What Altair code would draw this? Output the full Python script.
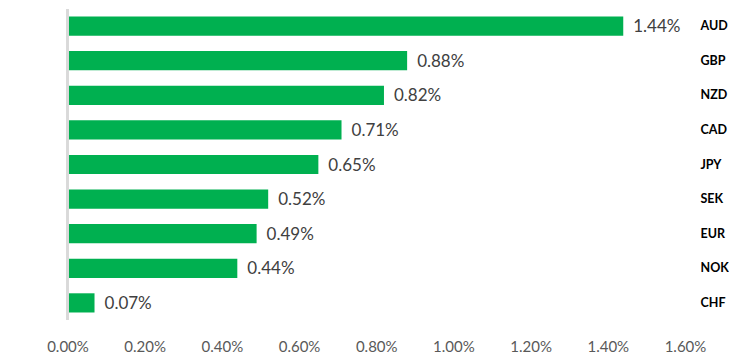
import altair as alt
import pandas as pd

currencies = ["AUD", "GBP", "NZD", "CAD", "JPY", "SEK", "EUR", "NOK", "CHF"]
values = [1.44, 0.88, 0.82, 0.71, 0.65, 0.52, 0.49, 0.44, 0.07]
labels = ["1.44%", "0.88%", "0.82%", "0.71%", "0.65%", "0.52%", "0.49%", "0.44%", "0.07%"]
x_ticks = [0, 0.2, 0.4, 0.6, 0.8, 1.0, 1.2, 1.4, 1.6]

df = pd.DataFrame({"ccy": currencies, "value": values, "label": labels})

FONT = "Lato"

y_enc = alt.Y(
    "ccy:N",
    sort=currencies,
    scale=alt.Scale(paddingInner=0.445, paddingOuter=0.217),
    axis=alt.Axis(
        orient="right", title=None, domain=False, ticks=False,
        labelPadding=15, labelAlign="left", labelFont=FONT,
        labelFontSize=12.5, labelFontWeight="bold", labelColor="#000000",
    ),
)
x_enc = alt.X(
    "value:Q",
    scale=alt.Scale(domain=[0, 1.6], nice=False),
    axis=alt.Axis(
        values=x_ticks, title=None, grid=False, domain=False,
        ticks=False, labelPadding=19, labelFont=FONT, labelFontSize=15,
        labelColor="#595959", labelFlush=False,
        labelExpr="format(datum.value/100, '.2%')",
    ),
)

bars = alt.Chart(df).mark_bar(color="#00b050").encode(x=x_enc, y=y_enc)

text = alt.Chart(df).mark_text(
    align="left", baseline="middle", dx=10, dy=1, font=FONT, fontSize=17,
    color="#404040",
).encode(x="value:Q", y=alt.Y("ccy:N", sort=currencies), text="label:N")

rule = alt.Chart(df).mark_rule(color="#d9d9d9", strokeWidth=2).encode(
    x=alt.datum(0)
)

chart = alt.layer(bars, text, rule).properties(
    width=617.5,
    height=311,
    autosize=alt.AutoSizeParams(type="none"),
    padding={"left": 59.5, "top": 1, "right": 44, "bottom": 34},
).configure_view(stroke=None)

chart.save("out.html", embed_options={"renderer": "svg", "actions": False})
